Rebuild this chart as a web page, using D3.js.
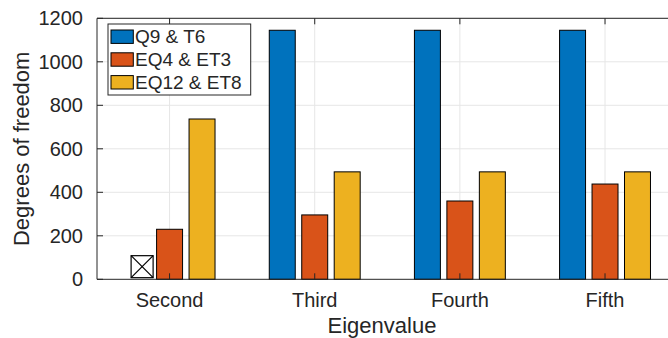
<!DOCTYPE html>
<html lang="en">
<head>
<meta charset="UTF-8">
<title>Degrees of freedom per eigenvalue</title>
<script src="https://d3js.org/d3.v7.min.js"></script>
<style>
  body { margin: 0; background: #fff; }
  text { font-family: "Liberation Sans", Arial, sans-serif; fill: #262626; }
</style>
</head>
<body>
<script>
// data
var categories = ["Second", "Third", "Fourth", "Fifth"];
var series = ["Q9 & T6", "EQ4 & ET3", "EQ12 & ET8"];
var q9t6   = [null, 1145, 1145, 1145];
var eq4et3 = [230, 296, 360, 438];
var eq12et8 = [737, 494, 494, 494];
var missingMarker = {category: "Second", value: 58};   // boxed X where Q9 & T6 has no bar
var yTicks = [0, 200, 400, 600, 800, 1000, 1200];
var colors = ["#0072BD", "#D95319", "#EDB120"];

var values = [q9t6, eq4et3, eq12et8];

// layout
var W = 668, H = 338;
var plotLeft = 97, plotTop = 18.3, plotBottom = 279.3;
var plotRight = 677.6;   // axes run past the picture edge

var svg = d3.select("body").append("svg")
    .attr("width", W).attr("height", H);

var x0 = d3.scaleBand().domain(categories).range([plotLeft, plotRight]).padding(0);
var catW = x0.bandwidth();
var x1 = d3.scaleBand().domain(series)
    .range([-catW * 0.3355, catW * 0.3355])
    .paddingInner(0.2).paddingOuter(0.1);
var y = d3.scaleLinear().domain([0, 1200]).range([plotBottom, plotTop]);

var cx = function(c) { return x0(c) + catW / 2; };

// grid
var grid = svg.append("g");
grid.selectAll(".hg").data(yTicks.slice(1)).enter().append("line")
    .attr("x1", plotLeft).attr("x2", plotRight)
    .attr("y1", d => y(d)).attr("y2", d => y(d))
    .attr("stroke", "#e6e6e6").attr("stroke-width", 1);
grid.selectAll(".vg").data(categories).enter().append("line")
    .attr("x1", d => cx(d)).attr("x2", d => cx(d))
    .attr("y1", plotTop).attr("y2", plotBottom)
    .attr("stroke", "#e6e6e6").attr("stroke-width", 1);

// bars
series.forEach(function(s, i) {
    var rows = categories.map((c, j) => ({c: c, v: values[i][j]})).filter(d => d.v != null);
    svg.append("g").selectAll("rect").data(rows).enter().append("rect")
        .attr("x", d => cx(d.c) + x1(s))
        .attr("width", x1.bandwidth())
        .attr("y", d => y(d.v))
        .attr("height", d => y(0) - y(d.v))
        .attr("fill", colors[i])
        .attr("stroke", "#000").attr("stroke-width", 1);
});

// missing value marker (boxed X)
var mx = cx(missingMarker.category) + x1(series[0]) + x1.bandwidth() / 2 + 5;
var my = y(missingMarker.value);
var ms = 11;
var mk = svg.append("g").attr("stroke", "#000").attr("stroke-width", 1.2);
mk.append("rect").attr("x", mx - ms).attr("y", my - ms).attr("width", 2 * ms).attr("height", 2 * ms)
    .attr("fill", "#fff");
mk.append("line").attr("x1", mx - ms).attr("y1", my - ms).attr("x2", mx + ms).attr("y2", my + ms);
mk.append("line").attr("x1", mx - ms).attr("y1", my + ms).attr("x2", mx + ms).attr("y2", my - ms);

// axes frame
var axisColor = "#262626";
var frame = svg.append("g").attr("stroke", axisColor).attr("stroke-width", 1);
frame.append("line").attr("x1", plotLeft).attr("x2", plotRight).attr("y1", plotBottom).attr("y2", plotBottom);
frame.append("line").attr("x1", plotLeft).attr("x2", plotRight).attr("y1", plotTop).attr("y2", plotTop);
frame.append("line").attr("x1", plotLeft).attr("x2", plotLeft).attr("y1", plotTop).attr("y2", plotBottom);

// tick marks (inward)
frame.selectAll(".xtb").data(categories).enter().append("line")
    .attr("x1", d => cx(d)).attr("x2", d => cx(d))
    .attr("y1", plotBottom).attr("y2", plotBottom - 6);
frame.selectAll(".xtt").data(categories).enter().append("line")
    .attr("x1", d => cx(d)).attr("x2", d => cx(d))
    .attr("y1", plotTop).attr("y2", plotTop + 6);
frame.selectAll(".yt").data(yTicks).enter().append("line")
    .attr("x1", plotLeft).attr("x2", plotLeft + 6)
    .attr("y1", d => y(d)).attr("y2", d => y(d));

// tick labels
svg.append("g").selectAll("text").data(yTicks).enter().append("text")
    .attr("x", plotLeft - 14).attr("y", d => y(d))
    .attr("dy", "0.35em").attr("text-anchor", "end")
    .style("font-size", "20px")
    .text(d => d);
svg.append("g").selectAll("text").data(categories).enter().append("text")
    .attr("x", d => cx(d)).attr("y", plotBottom + 28)
    .attr("text-anchor", "middle")
    .style("font-size", "20px")
    .text(d => d);

// axis titles
svg.append("text")
    .attr("x", 382).attr("y", 333)
    .attr("text-anchor", "middle")
    .style("font-size", "22px")
    .text("Eigenvalue");
svg.append("text")
    .attr("transform", "translate(29," + ((plotTop + plotBottom) / 2) + ") rotate(-90)")
    .attr("text-anchor", "middle")
    .style("font-size", "22px")
    .text("Degrees of freedom");

// legend
var lg = svg.append("g");
lg.append("rect").attr("x", 108).attr("y", 24).attr("width", 142.7).attr("height", 71)
    .attr("fill", "#fff").attr("stroke", axisColor).attr("stroke-width", 1);
series.forEach(function(s, i) {
    var cyL = 36.7 + i * 22.8;
    lg.append("rect").attr("x", 111).attr("y", cyL - 6.7).attr("width", 22.3).attr("height", 13.4)
        .attr("fill", colors[i]).attr("stroke", "#000").attr("stroke-width", 1);
    lg.append("text").attr("x", 135).attr("y", cyL).attr("dy", "0.35em")
        .style("font-size", "19px")
        .text(s);
});
</script>
</body>
</html>
